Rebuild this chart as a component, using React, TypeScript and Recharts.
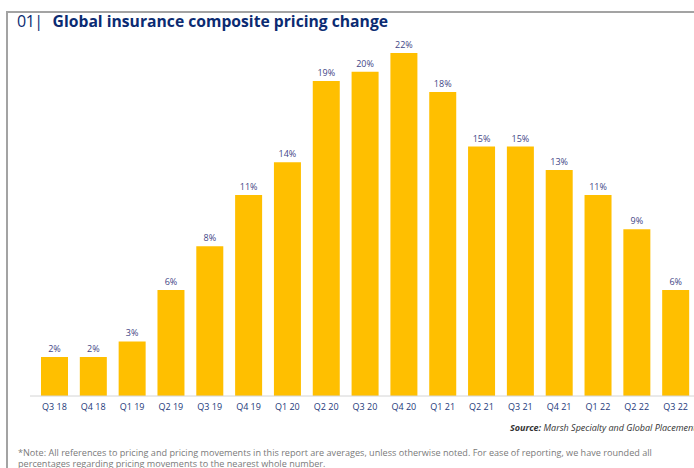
import React from "react";
import { BarChart, Bar, XAxis, YAxis, LabelList } from "recharts";

const quarters = ["Q3 18", "Q4 18", "Q1 19", "Q2 19", "Q3 19", "Q4 19", "Q1 20", "Q2 20", "Q3 20", "Q4 20", "Q1 21", "Q2 21", "Q3 21", "Q4 21", "Q1 22", "Q2 22", "Q3 22"];
// bar heights as drawn in the reference (index units)
const barValues = [2.5, 2.5, 3.5, 6.8, 9.6, 12.9, 15.0, 20.2, 20.8, 22.0, 19.5, 16.0, 16.0, 14.5, 12.9, 10.7, 6.8];
// rounded labels printed above the bars
const valueLabels = ["2%", "2%", "3%", "6%", "8%", "11%", "14%", "19%", "20%", "22%", "18%", "15%", "15%", "13%", "11%", "9%", "6%"];

const title = "Global insurance composite pricing change";
const sourceLabel = "Source:";
const sourceText = " Marsh Specialty and Global Placement";
const noteText = "*Note: All references to pricing and pricing movements in this report are averages, unless otherwise noted. For ease of reporting, we have rounded all percentages regarding pricing movements to the nearest whole number.";

const data = quarters.map((q, i) => ({ q, v: barValues[i], label: valueLabels[i] }));

const FONT = "'Open Sans', 'Noto Sans', sans-serif";

export default function App() {
  return (
    <div style={{ position: "fixed", left: 0, top: 0, width: 694, height: 468, overflow: "hidden", background: "#fff", fontFamily: FONT }}>
      <div style={{ position: "absolute", left: 6, top: 11, width: 700, height: 2, background: "#a3a3a3" }} />
      <div style={{ position: "absolute", left: 6, top: 11, width: 2, height: 470, background: "#a3a3a3" }} />
      <div style={{ position: "absolute", left: 17, top: 9, whiteSpace: "nowrap", color: "#0b2b72", fontSize: 16, lineHeight: "24px" }}>
        <span style={{ letterSpacing: -0.5 }}>01|</span>
        <span style={{ fontWeight: 700, marginLeft: 10, fontSize: 15.7 }}>{title}</span>
      </div>
      <div style={{ position: "absolute", left: 0, top: 0 }}>
        <BarChart width={695} height={468} data={data} margin={{ top: 53, right: 0, left: 30, bottom: 42 }}>
          <XAxis
            dataKey="q"
            padding={{ left: 5, right: 0 }}
            tickLine={false}
            axisLine={{ stroke: "#d4d4d4" }}
            interval={0}
            tick={{ fontSize: 9, fill: "#24397a", fontFamily: FONT }}
          />
          <YAxis hide width={0} domain={[0, 22]} />
          <Bar dataKey="v" fill="#FFBF00" barSize={27} isAnimationActive={false}>
            <LabelList dataKey="label" position="top" offset={5} style={{ fontSize: 9, fill: "#3f4686", fontFamily: FONT }} />
          </Bar>
        </BarChart>
      </div>
      <div style={{ position: "absolute", left: 510, top: 421, whiteSpace: "nowrap", fontSize: 9, fontStyle: "italic", color: "#333" }}>
        <span style={{ fontWeight: 700 }}>{sourceLabel}</span>
        <span>{sourceText}</span>
      </div>
      <div style={{ position: "absolute", left: 18, top: 447, width: 660, fontSize: 9.1, lineHeight: "11px", color: "#7a7a7a" }}>
        {noteText}
      </div>
    </div>
  );
}
